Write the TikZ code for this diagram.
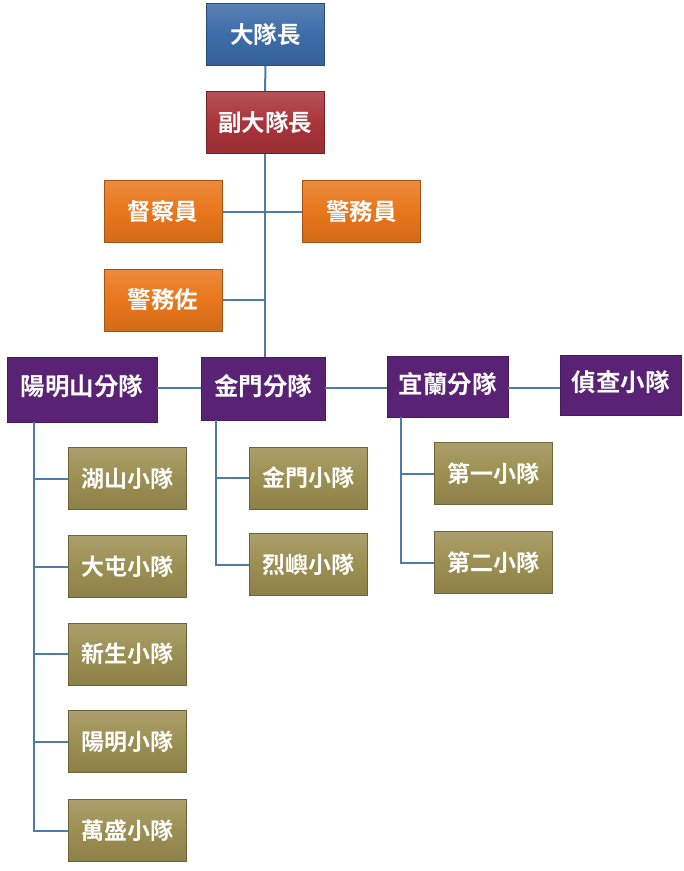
\documentclass[tikz,border=0pt]{standalone}
\usepackage{fontspec}
\newfontfamily\cjkb[BoldFont=*]{Noto Sans CJK TC Bold}
\usetikzlibrary{positioning}
\definecolor{bxblue}{HTML}{3C6CA8}
\definecolor{bxred}{HTML}{A9343A}
\definecolor{bxorange}{HTML}{E9761B}
\definecolor{bxpurple}{HTML}{5A2274}
\definecolor{bxolive}{HTML}{9C8F52}
\definecolor{lnblue}{HTML}{4D7BAA}
\tikzset{
  x=1pt, y=1pt,
  base/.style={rectangle, inner sep=0pt, text=white, font=\cjkb\fontsize{23.5}{26}\selectfont},
  bevel/.style={base, draw=#1!70!black, line width=1pt, top color=#1!85!white, bottom color=#1!90!black, middle color=#1},
  topbox/.style={bevel=#1, minimum width=118pt, minimum height=62pt},
  divbox/.style={base, fill=bxpurple, draw=bxpurple!80!black, line width=0.6pt, font=\cjkb\fontsize{24.5}{26}\selectfont},
  squadbox/.style={bevel=bxolive, minimum width=118pt, minimum height=62pt, font=\cjkb\fontsize{23}{26}\selectfont},
  conn/.style={draw=lnblue, line width=2pt},
}
\begin{document}
\begin{tikzpicture}
\useasboundingbox (0,0) rectangle (684,-871);
% connectors first (behind boxes)
\coordinate (c2) at (265,-300);
\coordinate (ya) at (34,-422);
\coordinate (yb) at (34,-830.5);
\coordinate (ja) at (216,-420);
\coordinate (jb) at (216,-564.5);
\coordinate (la) at (401,-417);
\coordinate (lb) at (401,-562.5);
% top
\node[topbox=bxblue] (dd) at (265.5,-34.5) {大隊長};
\node[topbox=bxred] (fd) at (265,-122.5) {副大隊長};
\node[topbox=bxorange] (dc) at (163,-211.5) {督察員};
\node[topbox=bxorange] (jy) at (361.5,-211.5) {警務員};
\node[topbox=bxorange] (jz) at (163,-300) {警務佐};
% divisions
\node[divbox, minimum width=150pt, minimum height=65pt] (ymsf) at (82,-389.5) {\raisebox{8pt}{陽明山分隊}};
\node[divbox, minimum width=124pt, minimum height=63pt] (jmf) at (263,-388.5) {\raisebox{8pt}{金門分隊}};
\node[divbox, minimum width=121pt, minimum height=61pt] (ylf) at (447.5,-386.5) {\raisebox{8pt}{宜蘭分隊}};
\node[divbox, minimum width=121pt, minimum height=60pt] (zc) at (620.5,-385) {\raisebox{8pt}{偵查小隊}};
% squads
\node[squadbox] (hs) at (127.5,-478.5) {湖山小隊};
\node[squadbox] (dt) at (127.5,-566.5) {大屯小隊};
\node[squadbox] (xs) at (127.5,-654) {新生小隊};
\node[squadbox] (ym) at (127.5,-741.5) {陽明小隊};
\node[squadbox] (ws) at (127.5,-830.5) {萬盛小隊};
\node[squadbox] (jm) at (308.5,-478) {金門小隊};
\node[squadbox] (ly) at (308.5,-564.5) {烈嶼小隊};
\node[squadbox] (d1) at (493,-473.5) {第一小隊};
\node[squadbox] (d2) at (493,-562.5) {第二小隊};
% connectors
\draw[conn] (dd.south) -- (fd.north);
\draw[conn] (fd.south) -- (fd.south |- jmf.north);
\draw[conn] (dc.east) -- (jy.west);
\draw[conn] (jz.east) -- (c2);
\draw[conn] (ymsf.east |- 0,-388) -- (jmf.west |- 0,-388);
\draw[conn] (jmf.east |- 0,-388) -- (ylf.west |- 0,-388);
\draw[conn] (ylf.east |- 0,-388) -- (zc.west |- 0,-388);
\draw[conn] (ya) -- (yb) -- (ws.west);
\draw[conn] (hs.west) -- (hs.west -| ya);
\draw[conn] (dt.west) -- (dt.west -| ya);
\draw[conn] (xs.west) -- (xs.west -| ya);
\draw[conn] (ym.west) -- (ym.west -| ya);
\draw[conn] (ja) -- (jb) -- (ly.west);
\draw[conn] (jm.west) -- (jm.west -| ja);
\draw[conn] (la) -- (lb) -- (d2.west);
\draw[conn] (d1.west) -- (d1.west -| la);
\end{tikzpicture}
\end{document}
